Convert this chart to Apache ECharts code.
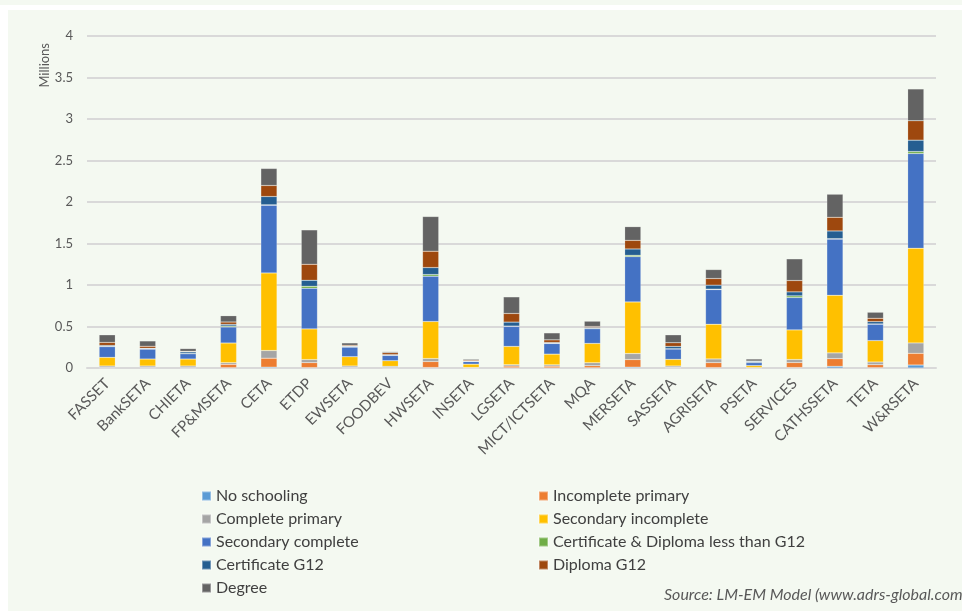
<!DOCTYPE html>
<html><head><meta charset="utf-8">
<script src="https://cdn.jsdelivr.net/npm/echarts@6/dist/echarts.min.js"></script>
<style>html,body{margin:0;padding:0;background:#fff}#c{width:962px;height:611px}</style>
</head><body><div id="c"></div>
<script>
const categories = ['FASSET','BankSETA','CHIETA','FP&MSETA','CETA','ETDP','EWSETA','FOODBEV','HWSETA','INSETA','LGSETA','MICT/ICTSETA','MQA','MERSETA','SASSETA','AGRISETA','PSETA','SERVICES','CATHSSETA','TETA','W&RSETA'];
const noSchooling = [0.002,0.002,0.002,0.004,0.01,0.005,0.002,0.002,0.006,0.001,0.003,0.002,0.003,0.01,0.002,0.005,0.001,0.006,0.02,0.004,0.036];
const incompletePrimary = [0.004,0.004,0.003,0.04,0.108,0.06,0.004,0.003,0.072,0.002,0.02,0.02,0.024,0.092,0.005,0.06,0.002,0.06,0.093,0.036,0.141];
const completePrimary = [0.018,0.018,0.019,0.02,0.092,0.036,0.018,0.015,0.036,0.003,0.016,0.016,0.036,0.072,0.017,0.044,0.002,0.036,0.069,0.032,0.125];
const secondaryIncomplete = [0.104,0.084,0.084,0.237,0.936,0.37,0.112,0.068,0.446,0.04,0.221,0.129,0.233,0.622,0.08,0.418,0.024,0.357,0.694,0.258,1.141];
const secondaryComplete = [0.129,0.12,0.064,0.193,0.815,0.49,0.116,0.064,0.546,0.032,0.241,0.129,0.177,0.546,0.125,0.418,0.036,0.39,0.677,0.198,1.141];
const certDiplomaLessG12 = [0.003,0.002,0.002,0.012,0.005,0.024,0.002,0.001,0.02,0.001,0.004,0.003,0.003,0.016,0.003,0.005,0.001,0.02,0.005,0.003,0.024];
const certificateG12 = [0.012,0.008,0.02,0.02,0.1,0.072,0.008,0.008,0.084,0.006,0.048,0.008,0.012,0.076,0.028,0.048,0.012,0.048,0.093,0.028,0.137];
const diplomaG12 = [0.036,0.024,0.008,0.028,0.133,0.193,0.012,0.024,0.197,0.012,0.104,0.032,0.012,0.104,0.044,0.08,0.006,0.137,0.165,0.04,0.234];
const degree = [0.092,0.064,0.032,0.076,0.205,0.414,0.028,0.012,0.418,0.012,0.2,0.084,0.064,0.165,0.096,0.108,0.024,0.261,0.278,0.073,0.383];
const yTicks = [0,0.5,1,1.5,2,2.5,3,3.5,4];

const seriesDefs = [
  ['No schooling', noSchooling, '#5b9bd5'],
  ['Incomplete primary', incompletePrimary, '#ed7d31'],
  ['Complete primary', completePrimary, '#a5a5a5'],
  ['Secondary incomplete', secondaryIncomplete, '#ffc000'],
  ['Secondary complete', secondaryComplete, '#4472c4'],
  ['Certificate & Diploma less than G12', certDiplomaLessG12, '#70ad47'],
  ['Certificate G12', certificateG12, '#255e91'],
  ['Diploma G12', diplomaG12, '#9e480e'],
  ['Degree', degree, '#636363']
];
const FONT = 'Lato, "Open Sans", sans-serif';
const chart = echarts.init(document.getElementById('c'), null, {renderer:'canvas'});
const legendText = {fontSize:16, color:'#404040', fontFamily:FONT};
chart.setOption({
  animation:false,
  backgroundColor:'#ffffff',
  graphic:[
    {type:'rect', left:0, top:0, shape:{width:962, height:5}, style:{fill:'#f4f9f1'}, z:-10},
    {type:'rect', left:8, top:10, shape:{width:954, height:601}, style:{fill:'#f4f9f1'}, z:-10},
    {type:'text', left:38, top:43, rotation:Math.PI/2, style:{text:'Millions', fontSize:13, fill:'#595959', fontFamily:FONT}},
    {type:'text', left:664, top:587, style:{text:'Source: LM-EM Model (www.adrs-global.com)', fontSize:16, fontStyle:'italic', fill:'#595959', fontFamily:FONT}}
  ],
  grid:{left:87, right:26, top:36, bottom:243, containLabel:false},
  legend:[
    {orient:'vertical', left:196, top:483, itemWidth:9, itemHeight:9, itemGap:7, icon:'rect', textStyle:legendText,
      data:['No schooling','Complete primary','Secondary complete','Certificate G12','Degree']},
    {orient:'vertical', left:533, top:483, itemWidth:9, itemHeight:9, itemGap:7, icon:'rect', textStyle:legendText,
      data:['Incomplete primary','Secondary incomplete','Certificate & Diploma less than G12','Diploma G12']}
  ],
  xAxis:{type:'category', data:categories,
    axisLine:{show:true, lineStyle:{color:'#d9d9d9', width:2}},
    axisTick:{show:false},
    axisLabel:{rotate:45, fontSize:15, color:'#595959', fontFamily:FONT, margin:13, interval:0}
  },
  yAxis:{type:'value', min:0, max:4, interval:0.5,
    axisLine:{show:false}, axisTick:{show:false},
    axisLabel:{fontSize:13, color:'#595959', fontFamily:FONT, margin:14},
    splitLine:{lineStyle:{color:'#d9d9d9', width:2}}
  },
  series: seriesDefs.map(([name, data, color]) => ({
    name, type:'bar', stack:'total', data, barWidth:'40%',
    itemStyle:{color, borderColor:'rgba(255,255,255,0.35)', borderWidth:0.5}
  }))
});
</script></body></html>
